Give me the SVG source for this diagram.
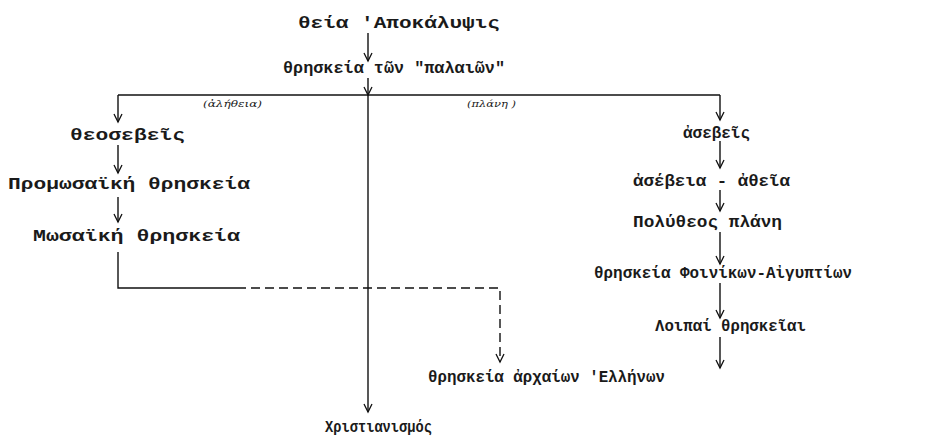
<svg xmlns="http://www.w3.org/2000/svg" width="939" height="441" viewBox="0 0 939 441">
<style>
.t{font-family:"Liberation Mono","DejaVu Sans Mono",monospace;font-size:17px;font-weight:bold;fill:#1a1a1a;}
.s{font-family:"DejaVu Serif","Liberation Serif",serif;font-size:10px;font-style:italic;fill:#1a1a1a;}
.c line,.c path{stroke:#111;stroke-width:1.4;fill:none;}
.c .d{stroke-dasharray:9 5;}
</style>
<defs>
<marker id="ah" markerWidth="12" markerHeight="12" refX="10" refY="5" orient="auto" markerUnits="userSpaceOnUse" viewBox="0 0 12 10">
<path d="M2,1 L10,5 L2,9" fill="none" stroke="#111" stroke-width="1.3"/>
</marker>
</defs>
<rect width="939" height="441" fill="#fff"/>
<g class="c" id="connectors">
<line x1="368" y1="33" x2="368" y2="61" marker-end="url(#ah)"/>
<line x1="368" y1="78" x2="368" y2="95" marker-end="url(#ah)"/>
<line x1="368" y1="95" x2="368" y2="412" marker-end="url(#ah)"/>
<line x1="118" y1="95" x2="720" y2="95"/>
<line x1="118" y1="95" x2="118" y2="122" marker-end="url(#ah)"/>
<line x1="720" y1="95" x2="720" y2="120" marker-end="url(#ah)"/>
<line x1="118" y1="145" x2="118" y2="173" marker-end="url(#ah)"/>
<line x1="118" y1="197" x2="118" y2="222" marker-end="url(#ah)"/>
<path d="M118,252 V288 H237"/>
<path class="d" d="M237,288 H500 V362" marker-end="url(#ah)"/>
<line x1="720" y1="141" x2="720" y2="168" marker-end="url(#ah)"/>
<line x1="720" y1="190" x2="720" y2="211" marker-end="url(#ah)"/>
<line x1="720" y1="232" x2="720" y2="264" marker-end="url(#ah)"/>
<line x1="720" y1="283" x2="720" y2="318" marker-end="url(#ah)"/>
<line x1="720" y1="337" x2="720" y2="368" marker-end="url(#ah)"/>
</g>
<g id="n1"><text class="t" x="298" y="28" textLength="202" lengthAdjust="spacingAndGlyphs">θεία 'Αποκάλυψις</text></g>
<g id="n2"><text class="t" x="283" y="73" textLength="222" lengthAdjust="spacingAndGlyphs">θρησκεία τῶν "παλαιῶν"</text></g>
<g id="l1"><text class="s" x="203" y="107" textLength="59" lengthAdjust="spacingAndGlyphs">(ἀλήθεια)</text></g>
<g id="l2"><text class="s" x="467" y="107" textLength="49" lengthAdjust="spacingAndGlyphs">(πλάνη )</text></g>
<g id="n3"><text class="t" x="70" y="140" textLength="115" lengthAdjust="spacingAndGlyphs">θεοσεβεῖς</text></g>
<g id="n4"><text class="t" x="8" y="189" textLength="242" lengthAdjust="spacingAndGlyphs">Προμωσαϊκή θρησκεία</text></g>
<g id="n5"><text class="t" x="33" y="241" textLength="207" lengthAdjust="spacingAndGlyphs">Μωσαϊκή θρησκεία</text></g>
<g id="n6"><text class="t" x="683" y="138" textLength="67" lengthAdjust="spacingAndGlyphs">ἀσεβεῖς</text></g>
<g id="n7"><text class="t" x="633" y="186" textLength="157" lengthAdjust="spacingAndGlyphs">ἀσέβεια - ἀθεῖα</text></g>
<g id="n8"><text class="t" x="633" y="227" textLength="149" lengthAdjust="spacingAndGlyphs">Πολύθεος πλάνη</text></g>
<g id="n9"><text class="t" x="594" y="278" textLength="258" lengthAdjust="spacingAndGlyphs">θρησκεία Φοινίκων-Αἰγυπτίων</text></g>
<g id="n10"><text class="t" x="655" y="331" textLength="151" lengthAdjust="spacingAndGlyphs">Λοιπαί θρησκεῖαι</text></g>
<g id="n11"><text class="t" x="428" y="382" textLength="237" lengthAdjust="spacingAndGlyphs">θρησκεία ἀρχαίων 'Ελλήνων</text></g>
<g id="n12"><text class="t" x="325" y="432" textLength="107" lengthAdjust="spacingAndGlyphs">Χριστιανισμός</text></g>
</svg>
